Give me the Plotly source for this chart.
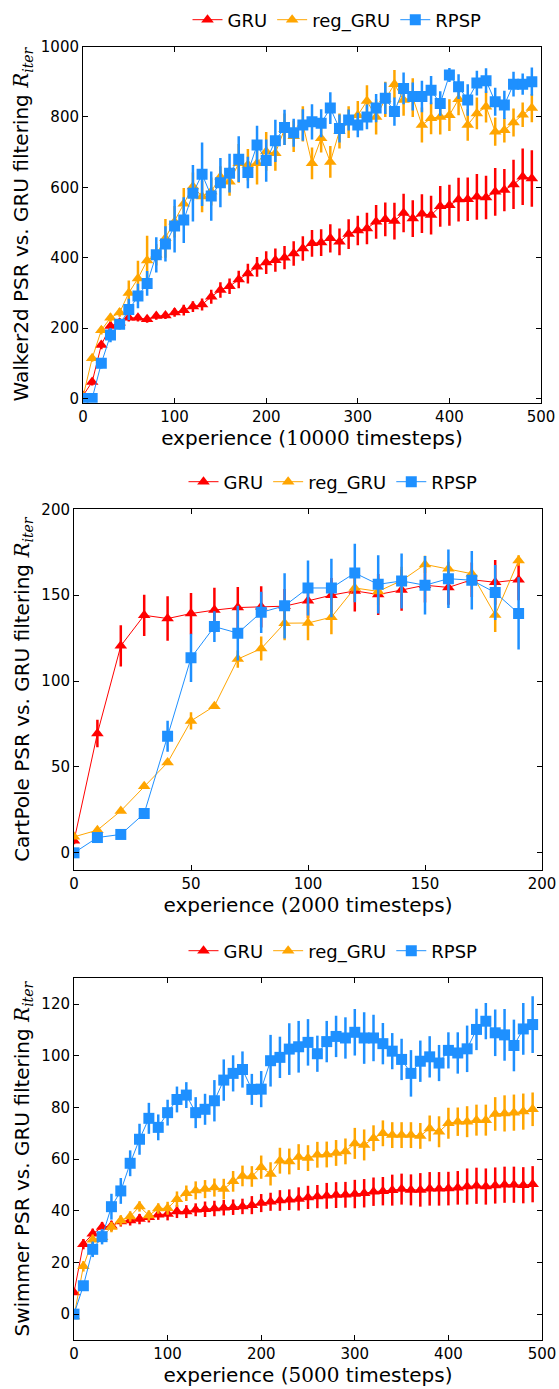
import plotly.graph_objects as go

# experience steps for each task
walker_x = list(range(0, 500, 10))
cartpole_x = list(range(0, 200, 10))
swimmer_x = list(range(0, 500, 10))

# Walker2d
walker_gru = [8, 47, 152, 206, 215, 229, 229, 225, 234, 236,
              244, 251, 261, 267, 289, 308, 319, 338, 355, 374,
              386, 393, 400, 412, 426, 441, 443, 455, 445, 467,
              477, 483, 502, 509, 504, 527, 511, 525, 521, 546,
              549, 565, 566, 573, 571, 587, 592, 608, 630, 625]
walker_gru_err = [5, 10, 12, 12, 12, 10, 10, 10, 10, 10,
                  12, 15, 15, 17, 20, 22, 22, 25, 28, 28,
                  32, 33, 33, 35, 35, 38, 38, 40, 38, 42,
                  42, 45, 48, 48, 52, 55, 52, 55, 55, 58,
                  58, 62, 62, 65, 62, 68, 60, 70, 80, 80]
walker_reg = [5, 114, 194, 229, 244, 300, 341, 392, 408, 455,
              502, 553, 602, 574, 588, 630, 616, 668, 664, 668,
              702, 697, 765, 745, 780, 668, 739, 672, 760, 785,
              805, 845, 800, 850, 893, 848, 855, 777, 796, 800,
              805, 850, 777, 810, 829, 758, 762, 784, 806, 825]
walker_reg_err = [5, 10, 12, 12, 12, 35, 50, 70, 30, 55,
                  45, 45, 40, 45, 40, 30, 40, 55, 45, 60,
                  55, 50, 45, 45, 50, 45, 40, 45, 50, 45,
                  40, 45, 50, 50, 40, 45, 55, 50, 45, 50,
                  45, 45, 45, 45, 45, 40, 35, 40, 35, 40]
walker_rpsp = [0, 0, 100, 180, 211, 253, 291, 327, 408, 439,
               490, 507, 583, 637, 575, 613, 640, 680, 642, 720,
               676, 732, 770, 755, 777, 786, 782, 825, 767, 791,
               777, 800, 825, 853, 815, 881, 858, 858, 876, 838,
               919, 886, 848, 896, 903, 843, 834, 893, 893, 900]
walker_rpsp_err = [5, 10, 15, 20, 15, 30, 35, 35, 50, 50,
                   75, 65, 80, 90, 70, 70, 55, 65, 45, 55,
                   60, 60, 50, 40, 45, 50, 40, 45, 40, 30,
                   35, 35, 40, 45, 40, 45, 40, 45, 40, 35,
                   20, 35, 45, 35, 35, 40, 40, 35, 30, 40]

# CartPole
cartpole_gru = [7, 69.5, 120.5, 138.3, 136.4, 139.3, 141.3, 142.8, 143.2, 143.6,
                146.7, 150, 152.5, 150.4, 153, 155.8, 154.5, 159, 157.5, 159]
cartpole_gru_err = [2, 8, 12, 12, 13, 12, 13, 12, 12, 10,
                    10, 10, 12, 12, 12, 10, 10, 10, 13, 12]
cartpole_reg = [9.3, 13.2, 24.4, 38.8, 52.6, 76.8, 85.4, 112.8, 118.9, 133.7,
                133.8, 137.2, 154.2, 152.2, 158.5, 167.9, 165.4, 162.5, 138.5, 170.2]
cartpole_reg_err = [1, 1, 1, 1, 1, 5, 1, 5, 7, 10,
                    10, 10, 8, 8, 8, 5, 4, 3, 10, 3]
cartpole_rpsp = [0, 8.9, 10.7, 22.9, 67.9, 113.5, 131.7, 127.9, 140, 143.8,
                 154.2, 154.2, 162.9, 156.3, 158.3, 155.8, 159.6, 158.7, 151.5, 139.4]
cartpole_rpsp_err = [1, 1, 1, 1, 9, 14, 9, 16, 12, 19,
                     16, 17, 17, 17, 16, 17, 17, 17, 16, 21]

# Swimmer
swimmer_gru = [8.4, 27.1, 31.1, 33.7, 34.2, 35.9, 36.3, 36.8, 37.5, 38.5,
               38.8, 39.7, 39.7, 40.4, 40.6, 40.9, 41.2, 41.4, 41.7, 42.2,
               43.0, 43.5, 44.0, 44.3, 44.6, 45.2, 45.5, 45.8, 46.1, 46.2,
               46.5, 46.8, 47.4, 47.6, 48.0, 48.4, 48.1, 48.1, 48.5, 48.5,
               48.6, 48.9, 49.4, 49.7, 49.4, 49.8, 50.1, 50.1, 49.9, 50.3]
swimmer_gru_err = [1, 2, 2, 2, 2, 2, 2, 2, 2, 2,
                   2.5, 2.5, 2.5, 2.5, 3, 3, 3, 3, 3, 3.5,
                   3.5, 3.5, 4, 4, 4.5, 4.5, 4.5, 5, 5, 5,
                   5.5, 5.5, 5.5, 5.5, 6, 6, 6, 6.5, 6.5, 6.5,
                   6.5, 6.5, 7, 7, 7, 7, 7, 7, 7, 7]
swimmer_reg = [-0.9, 18.5, 28.8, 29.8, 33.7, 36.3, 37.8, 41.7, 38.2, 40.9,
               41.0, 44.5, 46.8, 47.9, 48.4, 49.0, 48.4, 51.4, 53.5, 53.3,
               56.9, 54.3, 59.4, 59.1, 60.8, 60.4, 61.7, 61.8, 62.4, 63.0,
               66.1, 65.5, 68.1, 70.0, 69.3, 69.3, 69.3, 69.0, 71.9, 70.6,
               73.9, 74.5, 74.5, 75.1, 75.1, 77.5, 77.7, 78.0, 78.4, 79.3]
swimmer_reg_err = [1, 2, 2, 2, 2, 2, 2, 2, 2, 2,
                   2.5, 3, 3, 3.5, 3.5, 3.5, 4, 4, 4, 4,
                   4.5, 4.5, 5, 5, 5, 5, 5, 5, 5, 5,
                   6, 6, 5, 5, 5, 5, 5, 5, 5, 6,
                   6, 5.5, 6, 6, 6, 6.5, 7, 7, 7, 6.5]
swimmer_rpsp = [0, 11, 25.1, 30, 41.6, 47.7, 58.4, 67.7, 75.8, 72.3,
                78, 83.1, 84.8, 78, 79.3, 82.6, 90.6, 93.2, 94.7, 87,
                87.1, 98.1, 99.4, 102.6, 103.5, 105.2, 100.8, 105.5, 107.5, 106.9,
                109.1, 106.9, 106.9, 104.7, 101.8, 98.6, 93.2, 97.9, 99.6, 97.2,
                102.1, 101.1, 102.7, 110.2, 113.4, 108.9, 108.1, 104, 110.4, 112.1]
swimmer_rpsp_err = [0.5, 1, 3, 3, 5, 5, 5, 6, 6, 5,
                    5, 5, 5, 6, 6, 8, 8, 7, 7, 6,
                    7, 10, 8, 10, 10, 9, 7, 8, 8, 8,
                    9, 10, 9, 8, 7, 8, 9, 8, 8, 7,
                    7, 8, 9, 8, 7, 9, 10, 10, 10, 11]

FONT = "DejaVu Sans"
SERIF = "DejaVu Serif"
W, H = 559, 1389

styles = {
    "GRU": dict(color="red", symbol="triangle-up", size=11),
    "reg_GRU": dict(color="orange", symbol="triangle-up", size=11),
    "RPSP": dict(color="dodgerblue", symbol="square", size=11),
}

panels = [
    dict(name="Walker2d", steps="10000", x=walker_x,
         series=[("GRU", walker_gru, walker_gru_err),
                 ("reg_GRU", walker_reg, walker_reg_err),
                 ("RPSP", walker_rpsp, walker_rpsp_err)],
         xrange=[0, 500], xdtick=100, yrange=[-12, 1000], ydtick=200,
         box=(83, 541, 46.5, 402.7), legend=(337, 20)),
    dict(name="CartPole", steps="2000", x=cartpole_x,
         series=[("GRU", cartpole_gru, cartpole_gru_err),
                 ("reg_GRU", cartpole_reg, cartpole_reg_err),
                 ("RPSP", cartpole_rpsp, cartpole_rpsp_err)],
         xrange=[0, 200], xdtick=50, yrange=[-10, 200], ydtick=50,
         box=(74, 542, 509.3, 870), legend=(333, 482)),
    dict(name="Swimmer", steps="5000", x=swimmer_x,
         series=[("GRU", swimmer_gru, swimmer_gru_err),
                 ("reg_GRU", swimmer_reg, swimmer_reg_err),
                 ("RPSP", swimmer_rpsp, swimmer_rpsp_err)],
         xrange=[0, 500], xdtick=100, yrange=[-10, 130], ydtick=20,
         box=(74, 542, 978.3, 1340), legend=(333, 951)),
]

fig = go.Figure()
layout = {}

for i, p in enumerate(panels, start=1):
    sfx = "" if i == 1 else str(i)
    leg = "legend" + sfx
    for label, vals, err in p["series"]:
        st = styles[label]
        fig.add_trace(go.Scatter(
            x=p["x"], y=vals, name=label, mode="lines+markers",
            xaxis="x" + sfx, yaxis="y" + sfx, legend=leg,
            line=dict(color=st["color"], width=1),
            marker=dict(color=st["color"], symbol=st["symbol"], size=st["size"]),
            error_y=dict(type="data", array=err, color=st["color"],
                         thickness=2.5, width=0),
        ))

    x0, x1, y0, y1 = p["box"]
    axis_common = dict(showline=True, linecolor="black", linewidth=1, mirror="ticks",
                       ticks="inside", ticklen=5, tickcolor="black", showgrid=False,
                       zeroline=False, tickfont=dict(family=FONT, size=15, color="black"))
    layout["xaxis" + sfx] = dict(
        axis_common, domain=[x0 / W, x1 / W], anchor="y" + sfx,
        range=p["xrange"], dtick=p["xdtick"], tick0=0,
        title=dict(text=f"experience (<span style='font-family:{SERIF}'>{p['steps']}</span> timesteps)",
                   font=dict(family=FONT, size=20, color="black"), standoff=2),
    )
    layout["yaxis" + sfx] = dict(
        axis_common, domain=[1 - y1 / H, 1 - y0 / H], anchor="x" + sfx,
        range=p["yrange"], dtick=p["ydtick"], tick0=0,
        title=dict(text=f"{p['name']} PSR vs. GRU filtering "
                        f"<span style='font-family:{SERIF}'><i>R<sub>iter</sub></i></span>",
                   font=dict(family=FONT, size=20, color="black"), standoff=6),
    )
    lx, ly = p["legend"]
    layout[leg] = dict(orientation="h", x=lx / W, y=1 - ly / H,
                       xanchor="center", yanchor="middle", bgcolor="rgba(0,0,0,0)",
                       font=dict(family=FONT, size=18, color="black"),
                       itemwidth=30, tracegroupgap=0)

fig.update_layout(
    width=W, height=H, margin=dict(l=0, r=0, t=0, b=0, autoexpand=False),
    paper_bgcolor="white", plot_bgcolor="white",
    font=dict(family=FONT, color="black"),
    showlegend=True,
    **layout,
)

# page body has a default 8px margin; drop it so the figure fills the window
fig.write_html("out.html", config={"displayModeBar": False},
               post_script="document.body.style.margin='0';document.body.style.overflow='hidden';")
